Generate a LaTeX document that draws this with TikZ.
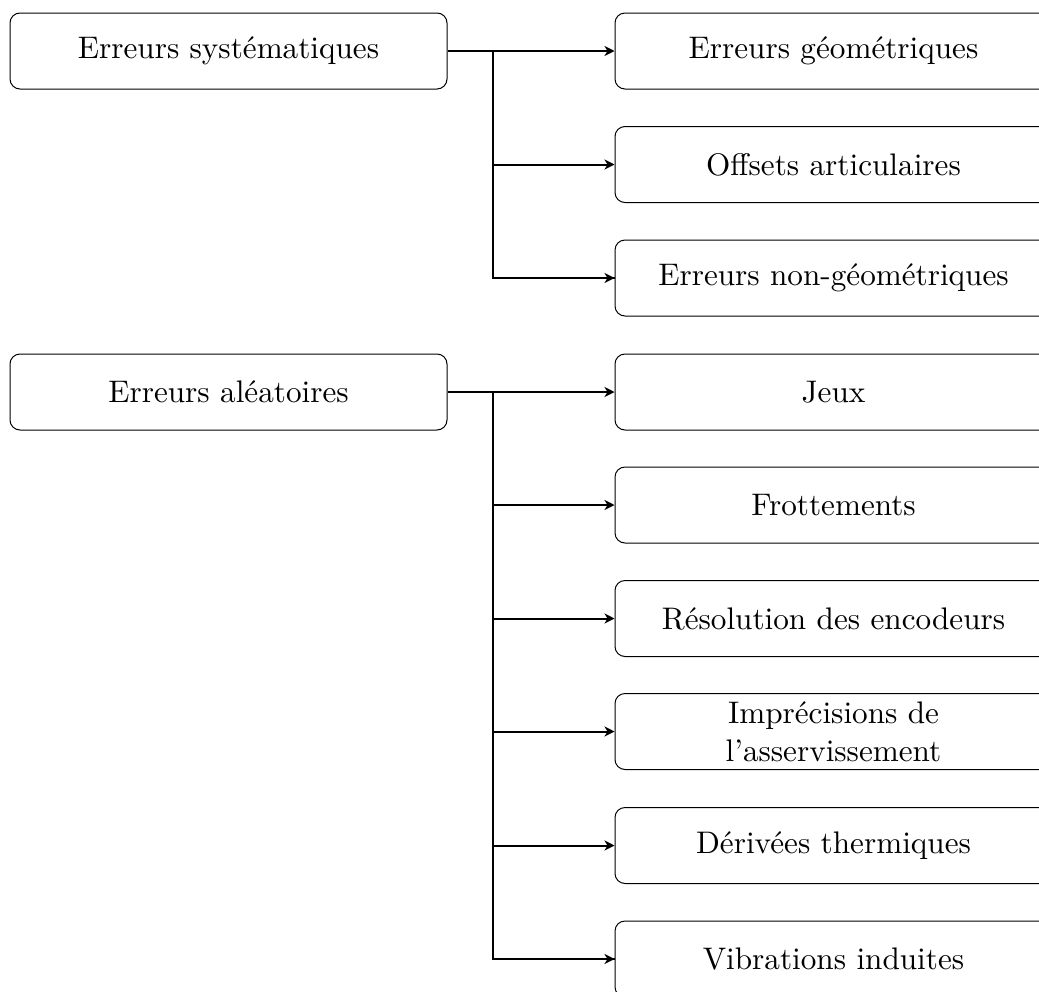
\documentclass[tikz,border=0pt]{standalone}
\usetikzlibrary{arrows.meta}
% Latin Modern Roman, 10pt design at every size
\DeclareFontFamily{TU}{lmten}{}
\DeclareFontShape{TU}{lmten}{m}{n}{<-> "[lmroman10-regular]:mapping=tex-text;"}{}
\tikzset{
  box/.style={draw, rounded corners=5pt, line width=0.5pt,
    minimum width=218.5pt, minimum height=38pt, align=center,
    font=\fontsize{15.6}{19}\fontfamily{lmten}\selectfont},
  link/.style={line width=1pt},
  feed/.style={line width=1pt, -{Stealth[length=5pt,width=5pt,inset=1.5pt]}},
}
\begin{document}
\begin{tikzpicture}[x=0.5pt,y=-0.5pt]
  \useasboundingbox (0,0) rectangle (1039,991);
  \clip (0,0) rectangle (1039,991);
  % sources
  \node[box] (sys) at (228.5,51) {Erreurs systématiques};
  \node[box] (alea) at (228.5,392) {Erreurs aléatoires};
  % systematic error families
  \node[box] (geo) at (833.5,51) {Erreurs géométriques};
  \node[box] (off) at (833.5,164.5) {Offsets articulaires};
  \node[box] (ngeo) at (833.5,278) {Erreurs non-géométriques};
  % random error families
  \node[box] (jeux) at (833.5,392) {Jeux};
  \node[box] (frot) at (833.5,505) {Frottements};
  \node[box] (reso) at (833.5,618.5) {Résolution des encodeurs};
  \node[box] (impr) at (833.5,731.5) {Imprécisions de\\l’asservissement};
  \node[box] (derv) at (833.5,845.5) {Dérivées thermiques};
  \node[box] (vibr) at (833.5,959) {Vibrations induites};
  % trunks
  \coordinate (ts) at (493,51);
  \coordinate (ta) at (493,392);
  \draw[link] (sys.east) -- (ts) |- (ngeo.west);
  \draw[feed] (sys.east) -- (geo.west);
  \draw[feed] (ts |- off.west) -- (off.west);
  \draw[feed] (ts |- ngeo.west) -- (ngeo.west);
  \draw[link] (alea.east) -- (ta) |- (vibr.west);
  \draw[feed] (alea.east) -- (jeux.west);
  \foreach \n in {frot,reso,impr,derv,vibr}
    \draw[feed] (ta |- \n.west) -- (\n.west);
\end{tikzpicture}
\end{document}
